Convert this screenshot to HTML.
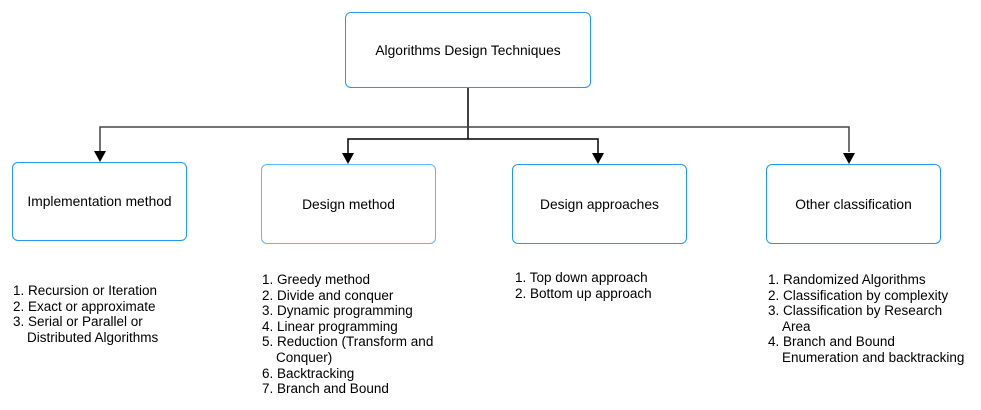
<!DOCTYPE html>
<html><head><style>
body{margin:0;background:#fff;width:981px;height:410px;overflow:hidden;position:relative;font-family:"Liberation Sans",Arial,sans-serif;color:#000}
.b{position:absolute;box-sizing:border-box;border:1.5px solid #2196f3;border-radius:6px;background:#fff;display:flex;align-items:center;justify-content:center;font-size:13.8px}
.l{position:absolute;font-size:13.5px;line-height:15.6px;margin:0;padding:0;list-style:none}
.l li{padding-left:14px;text-indent:-14px}
</style></head><body>
<svg width="981" height="410" style="position:absolute;left:0;top:0">
<g stroke="#000" stroke-width="1.5" fill="none">
<path d="M468 88 V139"/>
<path d="M100 152 V127 H849 V152" stroke="#444"/>
<path d="M348 154 V139 H598 V154"/>
</g>
<g fill="#000">
<path d="M94 151 L106 151 L100 162Z"/>
<path d="M342 153 L354 153 L348 164Z"/>
<path d="M592 153 L604 153 L598 164Z"/>
<path d="M843 153 L855 153 L849 164Z"/>
</g>
</svg>
<div class="b" style="left:345px;top:12px;width:246px;height:76px">Algorithms Design Techniques</div>
<div class="b" style="left:12px;top:162px;width:175px;height:79px">Implementation method</div>
<div class="b" style="left:261px;top:164px;width:175px;height:80px;border-color:#64b5f6">Design method</div>
<div class="b" style="left:512px;top:164px;width:175px;height:80px">Design approaches</div>
<div class="b" style="left:766px;top:164px;width:175px;height:80px">Other classification</div>
<ul class="l" style="left:13px;top:283px;width:160px"><li>1. Recursion or Iteration</li><li>2. Exact or approximate</li><li>3. Serial or Parallel or Distributed Algorithms</li></ul>
<ul class="l" style="left:262px;top:272px;width:190px"><li>1. Greedy method</li><li>2. Divide and conquer</li><li>3. Dynamic programming</li><li>4. Linear programming</li><li>5. Reduction (Transform and Conquer)</li><li>6. Backtracking</li><li>7. Branch and Bound</li></ul>
<ul class="l" style="left:515px;top:270px"><li>1. Top down approach</li><li>2. Bottom up approach</li></ul>
<ul class="l" style="left:768px;top:272px;width:200px"><li>1. Randomized Algorithms</li><li>2. Classification by complexity</li><li>3. Classification by Research Area</li><li>4. Branch and Bound Enumeration and backtracking</li></ul>
</body></html>
